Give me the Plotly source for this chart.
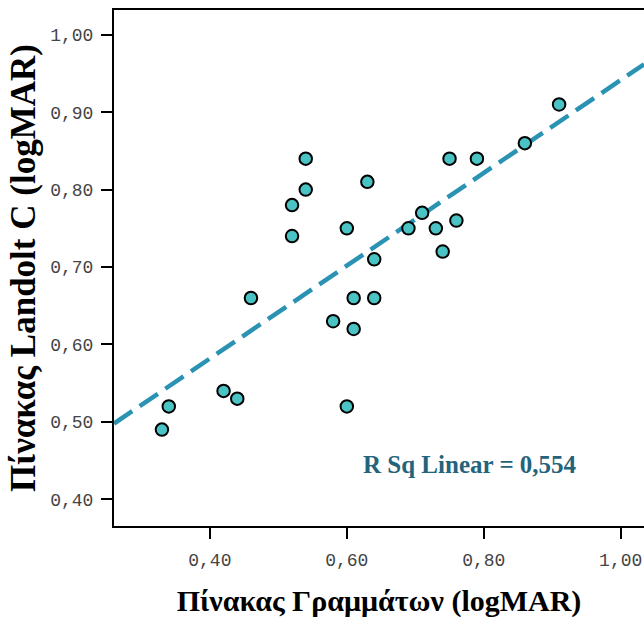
import numpy as np
import plotly.graph_objects as go

# Data
letters_logmar = [0.33, 0.34, 0.42, 0.44, 0.46, 0.52, 0.52, 0.54, 0.54, 0.58,
                  0.60, 0.60, 0.61, 0.61, 0.63, 0.64, 0.64, 0.69, 0.71, 0.73,
                  0.74, 0.75, 0.76, 0.79, 0.86, 0.91]
landolt_logmar = [0.49, 0.52, 0.54, 0.53, 0.66, 0.74, 0.78, 0.80, 0.84, 0.63,
                  0.75, 0.52, 0.66, 0.62, 0.81, 0.71, 0.66, 0.75, 0.77, 0.75,
                  0.72, 0.84, 0.76, 0.84, 0.86, 0.91]
x_ticks = [0.40, 0.60, 0.80, 1.00]
y_ticks = [0.40, 0.50, 0.60, 0.70, 0.80, 0.90, 1.00]
r_sq_label = "R Sq Linear = 0,554"

x_range = [0.26, 1.034]
y_range = [0.3655, 1.032]

slope, intercept = np.polyfit(letters_logmar, landolt_logmar, 1)
fit_x = np.array(x_range)
fit_y = intercept + slope * fit_x

fig = go.Figure()
fig.add_trace(go.Scatter(
    x=fit_x, y=fit_y, mode="lines",
    line=dict(color="#2A92B3", width=4.5, dash="22px,9px"),
    hoverinfo="skip", showlegend=False,
))
fig.add_trace(go.Scatter(
    x=letters_logmar, y=landolt_logmar, mode="markers",
    marker=dict(size=12.5, color="#4AC3C5", line=dict(color="black", width=2)),
    showlegend=False,
))

fig.add_annotation(
    x=0.78, y=0.4444, xref="x", yref="y", text=f"<b>{r_sq_label}</b>",
    showarrow=False, font=dict(family="Liberation Serif", size=25, color="#23637B"),
)

tick_font = dict(family="Liberation Mono", size=18, color="#444444")

fig.update_layout(
    width=644, height=625,
    margin=dict(l=114, r=0, t=10, b=99),
    paper_bgcolor="white", plot_bgcolor="white",
    separators=",.",
    xaxis=dict(
        range=x_range, tickvals=x_ticks, tickformat=".2f",
        showgrid=False, zeroline=False,
        showline=True, linecolor="black", linewidth=2, mirror=True,
        ticks="outside", ticklen=11, tickwidth=2, tickcolor="black",
        tickfont=tick_font, ticklabelstandoff=5,
        title=dict(text="<b>Πίνακας Γραμμάτων (logMAR)</b>",
                   font=dict(family="Liberation Serif", size=30, color="black"), standoff=20),
    ),
    yaxis=dict(
        range=y_range, tickvals=y_ticks, tickformat=".2f",
        showgrid=False, zeroline=False,
        showline=True, linecolor="black", linewidth=2,
        ticks="outside", ticklen=11, tickwidth=2, tickcolor="black",
        tickfont=tick_font, ticklabelstandoff=4,
        title=dict(text="<b>Πίνακας Landolt C (logMAR)</b>",
                   font=dict(family="Liberation Serif", size=35, color="black"), standoff=4),
    ),
)

fig.write_html("out.html")
